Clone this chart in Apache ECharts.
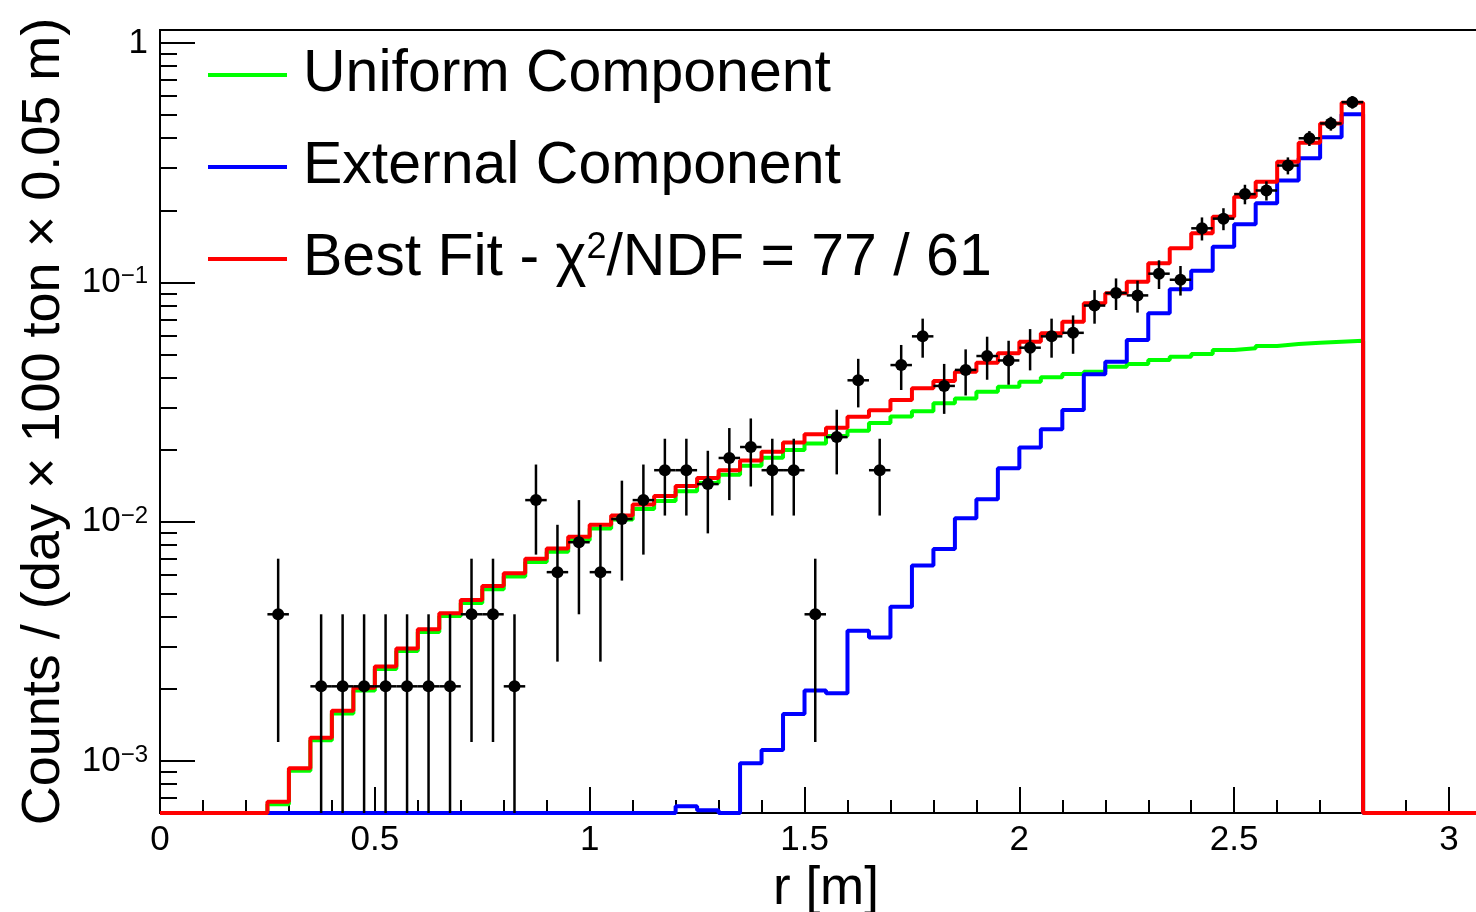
<!DOCTYPE html>
<html>
<head>
<meta charset="utf-8">
<script src="https://cdn.jsdelivr.net/npm/echarts@6/dist/echarts.min.js"></script>
<style>
  html, body { margin: 0; padding: 0; background: #ffffff; }
  #chart { width: 1476px; height: 912px; }
</style>
</head>
<body>
<div id="chart"></div>
<script>
// ---------------- DATA ----------------
// lower edges of the 0.05 m bins (r in m)
const binLowEdges = [0, 0.05, 0.1, 0.15, 0.2, 0.25, 0.3, 0.35, 0.4, 0.45,
  0.5, 0.55, 0.6, 0.65, 0.7, 0.75, 0.8, 0.85, 0.9, 0.95,
  1, 1.05, 1.1, 1.15, 1.2, 1.25, 1.3, 1.35, 1.4, 1.45,
  1.5, 1.55, 1.6, 1.65, 1.7, 1.75, 1.8, 1.85, 1.9, 1.95,
  2, 2.05, 2.1, 2.15, 2.2, 2.25, 2.3, 2.35, 2.4, 2.45,
  2.5, 2.55, 2.6, 2.65, 2.7, 2.75, 2.8, 2.85, 2.9, 2.95,
  3, 3.05];
const binUpperEdge = 3.1;
const binHalfWidth = 0.025;

// Uniform component (green)
const uniformComponent = [0, 0, 0, 0, 0,
  0.00066, 0.00091, 0.00122, 0.00158, 0.00197,
  0.00242, 0.00288, 0.00346, 0.00403, 0.00457,
  0.00522, 0.0059, 0.00678, 0.00748, 0.00836,
  0.00935, 0.0102, 0.0113, 0.0122, 0.0134,
  0.0145, 0.0157, 0.0171, 0.0185, 0.0199,
  0.0212, 0.0228, 0.0240, 0.0258, 0.0275,
  0.0289, 0.0312, 0.0327, 0.0349, 0.0366,
  0.0384, 0.0401, 0.0414, 0.0423, 0.0444,
  0.0456, 0.0474, 0.0489, 0.0502, 0.0521,
  0.0530, 0.0542, 0.0552, 0.0559, 0.0565,
  0.0570,
  0, 0, 0, 0, 0, 0];

// External component (blue)
const externalComponent = [0, 0, 0, 0, 0, 0, 0, 0, 0, 0,
  0, 0, 0, 0, 0, 0, 0, 0, 0, 0,
  0, 0, 0, 0,
  0.000647, 0.000622, 0, 0.000977, 0.00111, 0.00157,
  0.00197, 0.00192, 0.0035, 0.00328, 0.00441,
  0.00655, 0.00768, 0.01032, 0.0124, 0.0167,
  0.0204, 0.0243, 0.0293, 0.0413, 0.0466,
  0.0574, 0.0742, 0.0935, 0.1118, 0.1409,
  0.1748, 0.2138, 0.2660, 0.3299, 0.4036,
  0.5036,
  0, 0, 0, 0, 0, 0];

// Best fit (red)
const bestFit = [0, 0, 0, 0, 0,
  0.000675, 0.000931, 0.00125, 0.00162, 0.00202,
  0.00248, 0.00295, 0.00355, 0.00414, 0.0047,
  0.00538, 0.00608, 0.0070, 0.00773, 0.00865,
  0.0097, 0.0106, 0.0118, 0.0128, 0.0141,
  0.0152, 0.0164, 0.0180, 0.0196, 0.0214,
  0.0232, 0.0247, 0.0274, 0.0292, 0.0322,
  0.0361, 0.0387, 0.0423, 0.0461, 0.0505,
  0.0565, 0.0612, 0.0684, 0.0817, 0.0900,
  0.1006, 0.1201, 0.1387, 0.1602, 0.1880,
  0.2279, 0.2632, 0.3191, 0.3827, 0.4613,
  0.5627,
  0, 0, 0, 0, 0, 0];

// Observed data (black points) and their errors
const observed = [0, 0, 0, 0, 0,
  0.0041, 0, 0.00205, 0.00205, 0.00205,
  0.00205, 0.00205, 0.00205, 0.00205, 0.0041,
  0.0041, 0.00205, 0.0123, 0.00615, 0.0082,
  0.00615, 0.01025, 0.0123, 0.0164, 0.0164,
  0.01435, 0.01845, 0.0205, 0.0164, 0.0164,
  0.0041, 0.02255, 0.03895, 0.0164, 0.0451,
  0.05945, 0.0369, 0.04305, 0.0492, 0.04715,
  0.0533, 0.05945, 0.0615, 0.07995, 0.0902,
  0.08815, 0.10865, 0.1025, 0.1681, 0.1845,
  0.2337, 0.2419, 0.3075, 0.39975, 0.461,
  0.5658,
  0, 0, 0, 0, 0, 0];
const observedError = [0, 0, 0, 0, 0,
  0.0029, 0, 0.00205, 0.00205, 0.00205,
  0.00205, 0.00205, 0.00205, 0.00205, 0.0029,
  0.0029, 0.00205, 0.00502, 0.00355, 0.0041,
  0.00355, 0.00458, 0.00502, 0.0058, 0.0058,
  0.00542, 0.00615, 0.00648, 0.0058, 0.0058,
  0.0029, 0.0068, 0.00894, 0.0058, 0.00962,
  0.01104, 0.0087, 0.0094, 0.01004, 0.00983,
  0.01045, 0.01104, 0.01123, 0.0128, 0.0136,
  0.01344, 0.01492, 0.0145, 0.01856, 0.01945,
  0.02189, 0.02227, 0.02511, 0.02863, 0.03075,
  0.03406,
  0, 0, 0, 0, 0, 0];

const seriesNames = ['Uniform Component', 'External Component', 'Best Fit - χ2/NDF = 77 / 61'];
const xTickLabels = ['0', '0.5', '1', '1.5', '2', '2.5', '3'];
const yAxisTitle = 'Counts / (day × 100 ton × 0.05 m)';
const xAxisTitle = 'r [m]';

// axis ranges
const Y_MIN = 6.06e-4, Y_MAX = 1.133;
const X_MIN = 0, X_MAX = 3.1;

// ---------------- BUILD ----------------
const FONT = '"Liberation Sans", Arial, Helvetica, sans-serif';
function clampLow(v) { return v < Y_MIN ? Y_MIN : v; }
function stepData(vals) {
  const d = binLowEdges.map((x, i) => [x, clampLow(vals[i])]);
  d.push([binUpperEdge, clampLow(vals[vals.length - 1])]);
  return d;
}
const pointData = [];
observed.forEach((v, i) => {
  if (v > 0) pointData.push([binLowEdges[i] + binHalfWidth, v, observedError[i]]);
});

function histSeries(name, vals, color, z) {
  return {
    name: name, type: 'line', step: 'end', data: stepData(vals),
    showSymbol: false, symbol: 'none', clip: false, z: z,
    itemStyle: { color: color },
    lineStyle: { color: color, width: 4 },
    emphasis: { disabled: true }, silent: true
  };
}

const chart = echarts.init(document.getElementById('chart'), null, { renderer: 'canvas' });
const option = {
  animation: false,
  backgroundColor: '#ffffff',
  textStyle: { fontFamily: FONT, color: '#000' },
  grid: {
    left: 160, top: 30, width: 1332, height: 783,
    show: true, borderColor: '#000', borderWidth: 2, backgroundColor: 'transparent',
    containLabel: false, outerBoundsMode: 'none'
  },
  legend: {
    orient: 'vertical', left: 208, top: 40, padding: 0,
    itemWidth: 79, itemHeight: 4, itemGap: 22, icon: 'rect',
    selectedMode: false,
    data: seriesNames,
    formatter: function (name) {
      return name.replace('χ2', 'χ{sup|2}');
    },
    textStyle: {
      fontFamily: FONT, fontSize: 59, color: '#000', lineHeight: 70,
      padding: [0, 0, 0, 11],
      rich: {
        sup: { fontFamily: FONT, fontSize: 36, color: '#000', verticalAlign: 'top', padding: [6, 0, 0, 0] }
      }
    }
  },
  xAxis: {
    type: 'value', min: X_MIN, max: X_MAX, interval: 0.5,
    axisLine: { show: true, onZero: false, lineStyle: { color: '#000', width: 2 } },
    axisTick: { show: true, inside: true, length: 26, lineStyle: { color: '#000', width: 2 } },
    minorTick: { show: true, splitNumber: 5, length: 13, lineStyle: { color: '#000', width: 2 } },
    splitLine: { show: false }, minorSplitLine: { show: false },
    axisLabel: {
      fontFamily: FONT, fontSize: 35, color: '#000', margin: 10,
      formatter: function (v) {
        const k = Math.round(v / 0.5);
        if (Math.abs(v - k * 0.5) > 1e-6 || k >= xTickLabels.length) return '';
        return xTickLabels[k];
      }
    },
    name: xAxisTitle, nameLocation: 'middle', nameGap: 42,
    nameTextStyle: { fontFamily: FONT, fontSize: 53, color: '#000' }
  },
  yAxis: {
    type: 'log', logBase: 10, min: Y_MIN, max: Y_MAX,
    axisLine: { show: true, onZero: false, lineStyle: { color: '#000', width: 2 } },
    axisTick: { show: true, inside: true, length: 35, lineStyle: { color: '#000', width: 2 } },
    minorTick: { show: true, splitNumber: 9, length: 17, lineStyle: { color: '#000', width: 2 } },
    splitLine: { show: false }, minorSplitLine: { show: false },
    axisLabel: {
      fontFamily: FONT, fontSize: 35, color: '#000', margin: 12,
      formatter: function (v) {
        const l = Math.log10(v);
        const e = Math.round(l);
        if (Math.abs(l - e) > 1e-6) return '';
        if (e === 0) return '1';
        return '10{sup|\u2212' + (-e) + '}';
      },
      rich: {
        sup: { fontFamily: FONT, fontSize: 24, color: '#000', verticalAlign: 'top' }
      }
    },
    name: yAxisTitle, nameLocation: 'middle', nameGap: 78, nameRotate: 90,
    nameTextStyle: { fontFamily: FONT, fontSize: 54, color: '#000' }
  },
  series: [
    histSeries(seriesNames[0], uniformComponent, '#00ff00', 2),
    histSeries(seriesNames[1], externalComponent, '#0000ff', 3),
    histSeries(seriesNames[2], bestFit, '#ff0000', 4),
    {
      name: 'Data', type: 'custom', z: 10, silent: true,
      data: pointData,
      encode: { x: 0, y: 1 },
      renderItem: function (params, api) {
        const x = api.value(0), y = api.value(1), e = api.value(2);
        const c = api.coord([x, y]);
        const l = api.coord([x - binHalfWidth, y]);
        const r = api.coord([x + binHalfWidth, y]);
        const hi = api.coord([x, y + e]);
        const lo = api.coord([x, Math.max(y - e, Y_MIN)]);
        const st = { stroke: '#000', lineWidth: 2.5 };
        return {
          type: 'group',
          children: [
            { type: 'line', shape: { x1: l[0], y1: c[1], x2: r[0], y2: c[1] }, style: st },
            { type: 'line', shape: { x1: c[0], y1: hi[1], x2: c[0], y2: lo[1] }, style: st },
            { type: 'circle', shape: { cx: c[0], cy: c[1], r: 6 }, style: { fill: '#000' } }
          ]
        };
      }
    }
  ]
};
chart.setOption(option);
</script>
</body>
</html>
